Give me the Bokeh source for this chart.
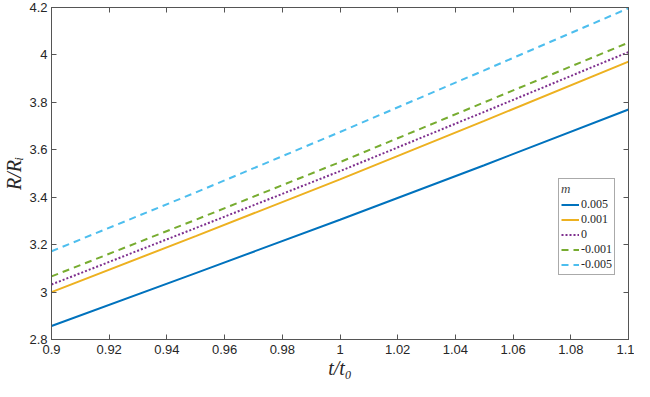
from bokeh.plotting import figure
from bokeh.models import (Range1d, LinearAxis, FixedTicker, Legend, LegendItem,
                          CustomJSTickFormatter)
from bokeh.embed import file_html
from bokeh.resources import INLINE

# ---- data ----
t = [0.90, 0.95, 1.00, 1.05, 1.10]
r_p005 = [2.857, 3.080, 3.305, 3.535, 3.770]
r_p001 = [3.000, 3.236, 3.475, 3.722, 3.972]
r_0 = [3.032, 3.270, 3.510, 3.760, 4.012]
r_m001 = [3.066, 3.305, 3.548, 3.800, 4.052]
r_m005 = [3.172, 3.420, 3.675, 3.935, 4.197]
labels = ["0.005", "0.001", "0", "-0.001", "-0.005"]
x_ticks = [0.90, 0.92, 0.94, 0.96, 0.98, 1.00, 1.02, 1.04, 1.06, 1.08, 1.10]
x_tick_labels = ["0.9", "0.92", "0.94", "0.96", "0.98", "1", "1.02", "1.04", "1.06", "1.08", "1.1"]
y_ticks = [2.8, 3.0, 3.2, 3.4, 3.6, 3.8, 4.0, 4.2]
y_tick_labels = ["2.8", "3", "3.2", "3.4", "3.6", "3.8", "4", "4.2"]

colors = ["#0072BD", "#EDB120", "#7E2F8E", "#77AC30", "#4DBEEE"]
dashes = ["solid", "solid", "2 2", "7 5", "7 5"]
series = [r_p005, r_p001, r_0, r_m001, r_m005]

AX = "#555555"
TICKF = "Liberation Sans"

p = figure(width=634, height=381, output_backend="svg", toolbar_location=None,
           x_range=Range1d(0.9, 1.1), y_range=Range1d(2.8, 4.2),
           min_border_left=40, min_border_right=6, min_border_top=7,
           min_border_bottom=10, background_fill_color="white",
           border_fill_color="white")
p.grid.visible = False
p.outline_line_color = AX
p.outline_line_width = 1

items = []
for ys, c, d, lab in zip(series, colors, dashes, labels):
    r = p.line(t, ys, line_color=c, line_width=2, line_dash=d)
    items.append(LegendItem(label=lab, renderers=[r]))

def style_axis(ax, ticks, show_labels, overrides=None):
    ax.ticker = FixedTicker(ticks=ticks)
    ax.minor_tick_line_color = None
    ax.major_tick_in = 5
    ax.major_tick_out = 0
    ax.axis_line_color = AX
    ax.major_tick_line_color = AX
    if show_labels:
        ax.major_label_overrides = overrides
        ax.major_label_text_font = TICKF
        ax.major_label_text_font_size = "13px"
        ax.major_label_text_color = "#262626"
    else:
        ax.formatter = CustomJSTickFormatter(code="return ''")
        ax.major_label_standoff = 0
        ax.axis_label_standoff = 0
        ax.major_label_text_font_size = "1px"

xa = p.xaxis[0]
ya = p.yaxis[0]
style_axis(xa, x_ticks, True, {v: s for v, s in zip(x_ticks, x_tick_labels)})
style_axis(ya, y_ticks, True, {v: s for v, s in zip(y_ticks, y_tick_labels)})
xa.major_label_standoff = 5
ya.major_label_standoff = 4
xa.axis_label = "t/t₀"
ya.axis_label = "R/Rᵢ"
for a in (xa, ya):
    a.axis_label_text_font = "Liberation Serif"
    a.axis_label_text_font_style = "italic"
    a.axis_label_text_font_size = "20px"
    a.axis_label_text_color = "#262626"
xa.axis_label_standoff = 0
ya.axis_label_standoff = 1

top = LinearAxis()
style_axis(top, x_ticks, False)
right = LinearAxis()
style_axis(right, y_ticks, False)
p.add_layout(top, "above")
p.add_layout(right, "right")

legend = Legend(items=items, location=(507, 64), title="m",
                title_text_font="Liberation Serif", title_text_font_style="italic",
                title_text_font_size="13px", title_standoff=0,
                label_text_font="Liberation Serif", label_text_font_size="12px",
                label_text_color="#262626",
                glyph_width=18, glyph_height=13, label_height=13, label_width=10,
                label_standoff=2, spacing=0, padding=2, margin=0,
                border_line_color=AX, border_line_width=1,
                background_fill_color="white", background_fill_alpha=1)
p.add_layout(legend, "center")

open("out.html", "w").write(file_html(p, INLINE))
